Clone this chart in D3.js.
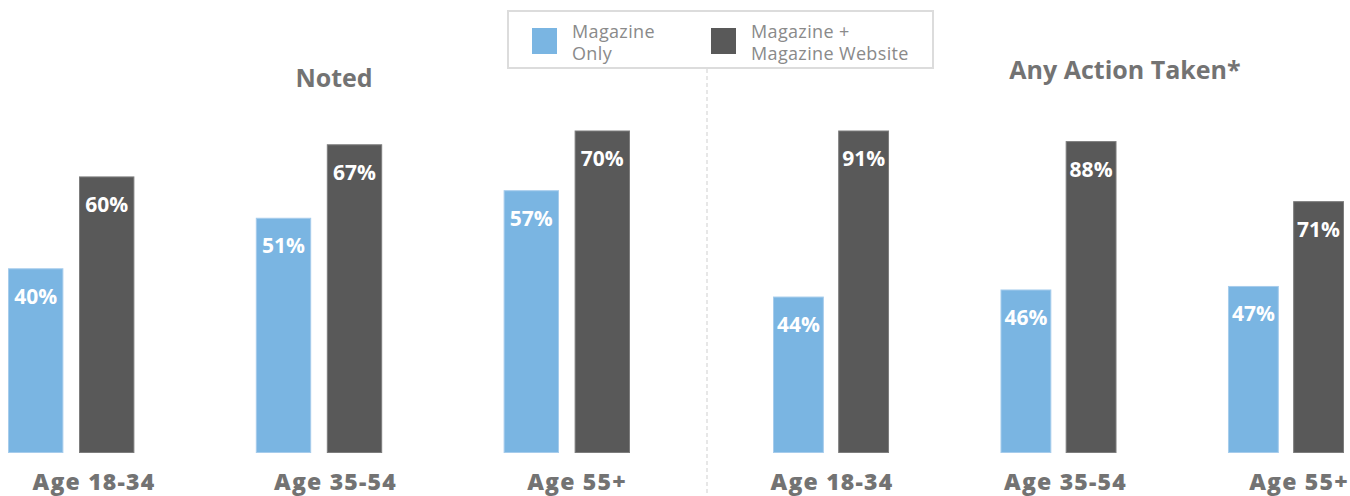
<!DOCTYPE html>
<html>
<head>
<meta charset="utf-8">
<script src="https://cdn.jsdelivr.net/npm/d3@7/dist/d3.min.js"></script>
<style>
  html, body { margin: 0; padding: 0; background: #fff; }
  svg { display: block; }
</style>
</head>
<body>
<svg id="chart" width="1350" height="496"></svg>
<script>
// Age groups shown in each panel
const categories = ["Age 18-34", "Age 35-54", "Age 55+"];
const seriesNames = ["Magazine Only", "Magazine + Magazine Website"];
const legendLines = [["Magazine", "Only"], ["Magazine +", "Magazine Website"]];

// Panel titles
const panelTitles = ["Noted", "Any Action Taken*"];

// Percent values per panel, by series
const notedMagazineOnly = [40, 51, 57];
const notedMagazinePlusWeb = [60, 67, 70];
const actionMagazineOnly = [44, 46, 47];
const actionMagazinePlusWeb = [91, 88, 71];

const colors = ["#7ab5e2", "#595959"];
const strokes = ["#a6ccec", "#7d7d7d"];
const textGray = "#737373";

const svg = d3.select("#chart");
const baseline = 452.5;
const topY = 131;

const panels = [
  { title: panelTitles[0], values: [notedMagazineOnly, notedMagazinePlusWeb],
    range: [8, 630], labelRange: [94, 577], titleX: 334, titleY: 87 },
  { title: panelTitles[1], values: [actionMagazineOnly, actionMagazinePlusWeb],
    range: [773, 1344], labelRange: [832, 1299], titleX: 1125, titleY: 79 }
];

// Dashed divider between the two panels
svg.append("line")
  .attr("x1", 707).attr("x2", 707)
  .attr("y1", 69).attr("y2", 496)
  .attr("stroke", "#cfcfcf")
  .attr("stroke-width", 1)
  .attr("stroke-dasharray", "4,3");

panels.forEach(p => {
  const x0 = d3.scaleBand().domain(categories).range(p.range).paddingInner(0.49);
  const x1 = d3.scaleBand().domain(seriesNames).range([0, x0.bandwidth()]).paddingInner(0.22);
  const xLabel = d3.scalePoint().domain(categories).range(p.labelRange);
  const maxVal = d3.max(p.values.flat());
  const y = d3.scaleLinear().domain([0, maxVal]).range([baseline, topY]);

  const g = svg.append("g");

  svg.append("text")
    .attr("x", p.titleX).attr("y", p.titleY)
    .attr("text-anchor", "middle")
    .attr("font-family", "'Open Sans', sans-serif")
    .attr("font-weight", 700)
    .attr("font-size", 25)
    .attr("fill", textGray)
    .text(p.title);

  const rows = categories.map((c, i) => ({
    cat: c,
    bars: seriesNames.map((s, j) => ({ series: s, idx: j, value: p.values[j][i] }))
  }));

  const groups = g.selectAll("g.grp").data(rows).join("g")
    .attr("class", "grp")
    .attr("transform", d => `translate(${x0(d.cat)},0)`);

  groups.selectAll("rect").data(d => d.bars).join("rect")
    .attr("x", d => x1(d.series) + 0.5)
    .attr("y", d => y(d.value))
    .attr("width", x1.bandwidth() - 1)
    .attr("height", d => baseline - y(d.value))
    .attr("fill", d => colors[d.idx])
    .attr("stroke", d => strokes[d.idx])
    .attr("stroke-width", 1);

  groups.selectAll("text.val").data(d => d.bars).join("text")
    .attr("class", "val")
    .attr("x", d => x1(d.series) + x1.bandwidth() / 2)
    .attr("y", d => y(d.value) + 35)
    .attr("text-anchor", "middle")
    .attr("font-family", "'Open Sans', sans-serif")
    .attr("font-weight", 700)
    .attr("font-size", 21)
    .attr("fill", "#ffffff")
    .text(d => d.value + "%");

  // Category labels under each group
  svg.append("g").selectAll("text").data(categories).join("text")
    .attr("x", d => xLabel(d))
    .attr("y", 489.5)
    .attr("text-anchor", "middle")
    .attr("font-family", "'Open Sans', sans-serif")
    .attr("font-weight", 800)
    .attr("font-size", 23)
    .attr("letter-spacing", 1.2)
    .attr("fill", textGray)
    .text(d => d);
});

// Legend
const legend = svg.append("g");
legend.append("rect")
  .attr("x", 508).attr("y", 11)
  .attr("width", 425).attr("height", 57)
  .attr("fill", "#fff")
  .attr("stroke", "#dcdcdc")
  .attr("stroke-width", 2);

const legendX = [532, 711];
seriesNames.forEach((s, i) => {
  legend.append("rect")
    .attr("x", legendX[i]).attr("y", 28)
    .attr("width", 25).attr("height", 26)
    .attr("fill", colors[i]);
  const t = legend.append("text")
    .attr("font-family", "'Open Sans', sans-serif")
    .attr("font-weight", 400)
    .attr("font-size", 18)
    .attr("letter-spacing", 0.35)
    .attr("fill", "#8a8a8a");
  legendLines[i].forEach((line, k) => {
    t.append("tspan")
      .attr("x", legendX[i] + 40)
      .attr("y", 38 + k * 21.5)
      .text(line);
  });
});
</script>
</body>
</html>
